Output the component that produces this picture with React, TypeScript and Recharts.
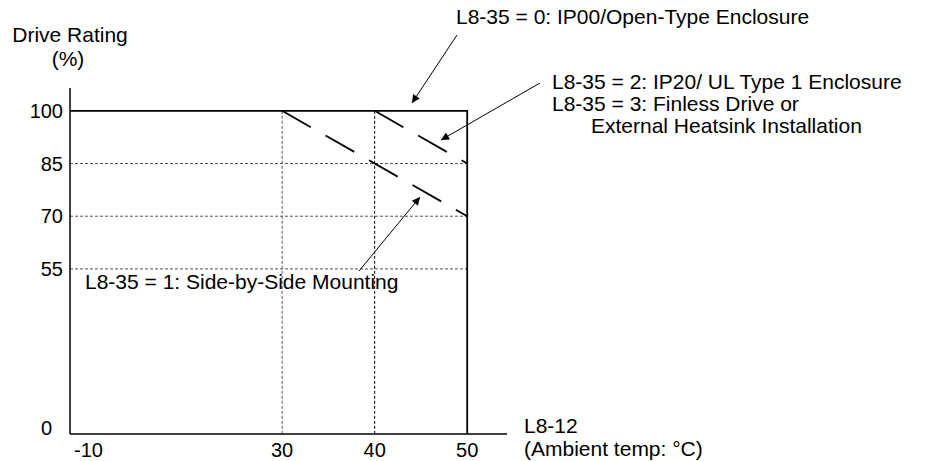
import React from 'react';
import { ComposedChart, Line, XAxis, YAxis, ReferenceLine } from 'recharts';

// Axis ticks (both axes are broken: -10 and 0 sit right at the origin)
const tempTicks = [-10, 30, 40, 50];
const ratingTicks = [0, 55, 70, 85, 100];

// Derating curves
const openTemp = [-10, 50, 50];
const openRating = [100, 100, 0];
const ip20Temp = [40, 50];
const ip20Rating = [100, 85];
const sideTemp = [30, 50];
const sideRating = [100, 70];

// Grid guides
const guideTemps = [30, 40];
const guideRatings = [85, 70, 55];

// axis break positions
const X_BREAK = 7.08;
const Y_BREAK = 8;
const tx = (t: number) => (t === -10 ? X_BREAK : t);
const ry = (r: number) => (r === 0 ? Y_BREAK : r);

const toPoints = (ts: number[], rs: number[]) => ts.map((t, i) => ({ t: tx(t), r: ry(rs[i]) }));

const openData = toPoints(openTemp, openRating);
const ip20Data = toPoints(ip20Temp, ip20Rating);
const sideData = toPoints(sideTemp, sideRating);

const FONT = '"Liberation Sans", Arial, sans-serif';
const FS = 20;
const NOTE_FS = 21;

const XTick = (props: any) => {
  const { x, payload } = props;
  const isBreak = payload.value === X_BREAK;
  return (
    <text x={isBreak ? x + 4 : x} y={457} textAnchor={isBreak ? 'start' : 'middle'} fontSize={FS} fontFamily={FONT} fill="#000">
      {isBreak ? '-10' : payload.value}
    </text>
  );
};

const YTick = (props: any) => {
  const { y, payload } = props;
  const isBreak = payload.value === Y_BREAK;
  return (
    <text x={isBreak ? 52 : 63} y={isBreak ? y + 1 : y + 7} textAnchor="end" fontSize={FS} fontFamily={FONT} fill="#000">
      {isBreak ? '0' : payload.value}
    </text>
  );
};

const Annotations = () => (
  <svg width={933} height={461} style={{ position: 'absolute', left: 0, top: 0, pointerEvents: 'none' }}>
    <defs>
      <marker id="arr" viewBox="0 0 10 10" refX="10" refY="5" markerWidth="11" markerHeight="8" markerUnits="userSpaceOnUse" orient="auto">
        <path d="M0,0 L10,5 L0,10 z" fill="#000" />
      </marker>
    </defs>
    <g fontFamily={FONT} fontSize={NOTE_FS} fill="#000">
      <text x={70} y={42} textAnchor="middle">Drive Rating</text>
      <text x={68} y={66} textAnchor="middle">(%)</text>
      <text x={456} y={24}>L8-35 = 0: IP00/Open-Type Enclosure</text>
      <text x={552} y={89}>L8-35 = 2: IP20/ UL Type 1 Enclosure</text>
      <text x={552} y={111}>L8-35 = 3: Finless Drive or</text>
      <text x={591} y={133}>External Heatsink Installation</text>
      <text x={85} y={289}>L8-35 = 1: Side-by-Side Mounting</text>
      <text x={524} y={433}>L8-12</text>
      <text x={524} y={456}>(Ambient temp: °C)</text>
    </g>
    <g stroke="#000" strokeWidth={1}>
      <line x1={457} y1={35} x2={412} y2={103} markerEnd="url(#arr)" />
      <line x1={540} y1={83} x2={441} y2={140} markerEnd="url(#arr)" />
      <line x1={359} y1={271} x2={420} y2={197} markerEnd="url(#arr)" />
    </g>
  </svg>
);

export default function App() {
  return (
    <div style={{ position: 'absolute', left: 0, top: 0, width: 933, height: 461, background: '#fff' }}>
      <ComposedChart width={933} height={461} margin={{ top: 88, right: 426, bottom: 0, left: 10 }}>
        <XAxis
          type="number"
          dataKey="t"
          domain={[X_BREAK, 54.3]}
          allowDataOverflow
          ticks={tempTicks.map(tx)}
          interval={0}
          tick={<XTick />}
          tickLine={false}
          axisLine={{ stroke: '#000', strokeWidth: 1.5 }}
          height={27}
        />
        <YAxis
          type="number"
          dataKey="r"
          domain={[Y_BREAK, 106.5]}
          allowDataOverflow
          ticks={ratingTicks.map(ry)}
          interval={0}
          tick={<YTick />}
          tickLine={false}
          axisLine={{ stroke: '#000', strokeWidth: 1.5 }}
          width={60}
        />
        {guideTemps.map((t) => (
          <ReferenceLine
            key={'v' + t}
            segment={[{ x: t, y: 100 }, { x: t, y: Y_BREAK }]}
            stroke={t === 40 ? '#000' : '#555'}
            strokeDasharray="3 2"
            strokeWidth={1}
          />
        ))}
        {guideRatings.map((r) => (
          <ReferenceLine
            key={'h' + r}
            segment={[{ x: X_BREAK, y: r }, { x: 50, y: r }]}
            stroke="#555"
            strokeDasharray="3 2"
            strokeWidth={1}
          />
        ))}
        <Line data={openData} dataKey="r" type="linear" stroke="#000" strokeWidth={1.8} dot={false} isAnimationActive={false} />
        <Line data={ip20Data} dataKey="r" type="linear" stroke="#000" strokeWidth={1.8} strokeDasharray="33 17" dot={false} isAnimationActive={false} />
        <Line data={sideData} dataKey="r" type="linear" stroke="#000" strokeWidth={1.8} strokeDasharray="33 17" dot={false} isAnimationActive={false} />
      </ComposedChart>
      <Annotations />
    </div>
  );
}
